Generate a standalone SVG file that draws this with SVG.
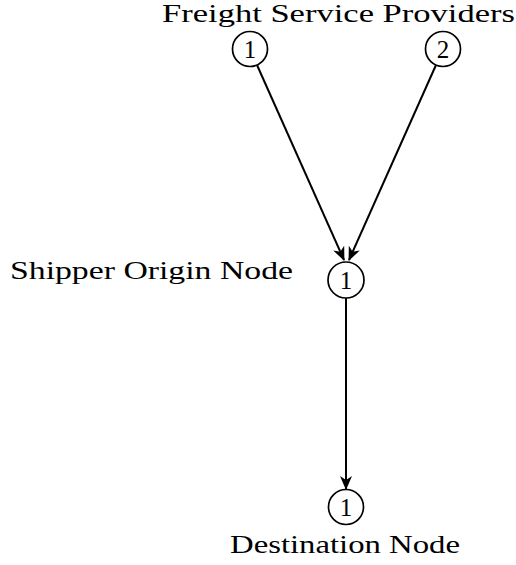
<svg xmlns="http://www.w3.org/2000/svg" width="516" height="565" viewBox="0 0 516 565">
  <style>
    .node circle { fill: #fff; stroke: #000; stroke-width: 1.7; }
    .num { font-family: "Liberation Serif", "DejaVu Serif", serif; font-size: 25px; text-anchor: middle; fill: #000; }
    .lbl { font-family: "Liberation Serif", "DejaVu Serif", serif; font-size: 26px; fill: #000; }
    .edge { stroke: #000; stroke-width: 2; fill: none; marker-end: url(#arrow); }
  </style>
  <defs>
    <marker id="arrow" viewBox="0 0 14 12" refX="13" refY="6" markerWidth="14" markerHeight="12" markerUnits="userSpaceOnUse" orient="auto">
      <path d="M0,0 L14,6 L0,12 L4,6 Z" fill="#000"/>
    </marker>
  </defs>

  <text class="lbl" x="162" y="22" textLength="353" lengthAdjust="spacingAndGlyphs">Freight Service Providers</text>
  <text class="lbl" x="10" y="279" textLength="283" lengthAdjust="spacingAndGlyphs">Shipper Origin Node</text>
  <text class="lbl" x="230" y="553" textLength="230" lengthAdjust="spacingAndGlyphs">Destination Node</text>

  <g id="connectors">
    <line class="edge" x1="257" y1="65" x2="344" y2="260"/>
    <line class="edge" x1="436" y1="65" x2="349" y2="260"/>
    <line class="edge" x1="346" y1="298" x2="346" y2="489"/>
  </g>

  <g id="provider1" class="node">
    <circle cx="250" cy="49" r="17.5"/>
    <text class="num" x="250" y="58">1</text>
  </g>
  <g id="provider2" class="node">
    <circle cx="443" cy="49" r="17.5"/>
    <text class="num" x="443" y="58">2</text>
  </g>
  <g id="origin" class="node">
    <circle cx="346" cy="280" r="18"/>
    <text class="num" x="346" y="289">1</text>
  </g>
  <g id="destination" class="node">
    <circle cx="346" cy="507" r="17.5"/>
    <text class="num" x="346" y="516">1</text>
  </g>
</svg>
